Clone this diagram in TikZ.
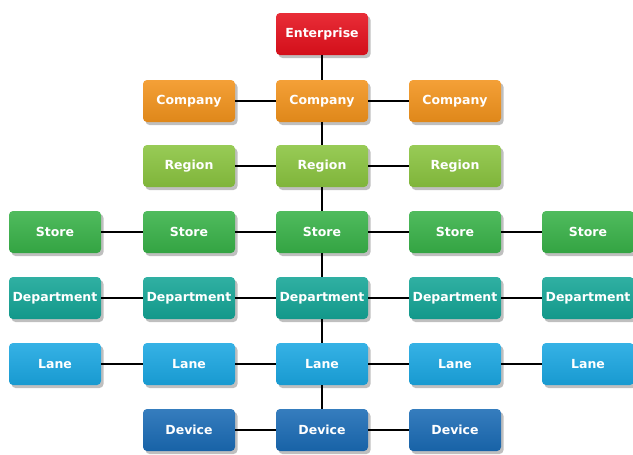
\documentclass[tikz,border=0pt]{standalone}
\usepackage{fontspec}
\setmainfont{DejaVu Sans}
\usetikzlibrary{shadows}
\definecolor{entcol}{HTML}{E5101C}
\definecolor{compcol}{HTML}{F2931C}
\definecolor{regcol}{HTML}{8AC43F}
\definecolor{storecol}{HTML}{38B248}
\definecolor{deptcol}{HTML}{14A596}
\definecolor{lanecol}{HTML}{1AA7E2}
\definecolor{devcol}{HTML}{1A6BB5}
\tikzset{
	orgbox/.style={rounded corners=4pt, minimum width=92pt, minimum height=42pt, inner sep=0pt,
		text=white, font=\bfseries\fontsize{12.5}{13}\selectfont,
		top color=#1!88!white, bottom color=#1!92!black,
		drop shadow={shadow xshift=2.5pt, shadow yshift=-3pt, opacity=0.5}},
	link/.style={line width=2.6pt, black}
}
\begin{document}
\begin{tikzpicture}[x=1pt,y=-1pt]
	\useasboundingbox (0,0) rectangle (633,455);
	% top
	\node[orgbox=entcol] (ent) at (322,34) {Enterprise};
	% rows with three boxes
	\foreach \i/\x in {2/189,3/322,4/455}{
		\node[orgbox=compcol] (comp\i) at (\x,101) {Company};
		\node[orgbox=regcol] (reg\i) at (\x,166) {Region};
		\node[orgbox=devcol] (dev\i) at (\x,430) {Device};
	}
	% rows with five boxes
	\foreach \i/\x in {1/55,2/189,3/322,4/455,5/588}{
		\node[orgbox=storecol] (store\i) at (\x,232) {Store};
		\node[orgbox=deptcol] (dept\i) at (\x,298) {Department};
		\node[orgbox=lanecol] (lane\i) at (\x,364) {Lane};
	}
	% center column
	\draw[link] (ent) -- (comp3) -- (reg3) -- (store3) -- (dept3) -- (lane3) -- (dev3);
	% horizontal links
	\foreach \r in {comp,reg,dev}{\draw[link] (\r2) -- (\r3) -- (\r4);}
	\foreach \r in {store,dept,lane}{\draw[link] (\r1) -- (\r2) -- (\r3) -- (\r4) -- (\r5);}
\end{tikzpicture}
\end{document}
